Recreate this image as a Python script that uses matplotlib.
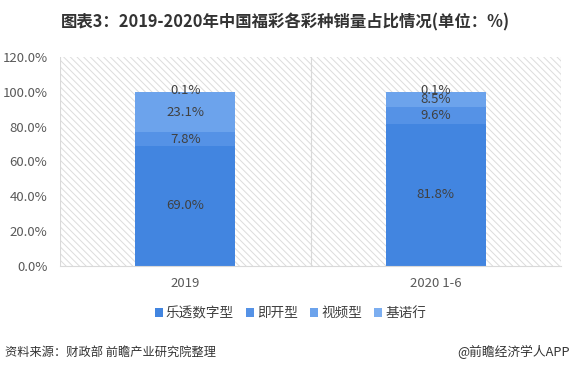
import matplotlib.pyplot as plt
from matplotlib.patches import Rectangle

plt.rcParams['font.family'] = ['Noto Sans CJK SC', 'DejaVu Sans']
plt.rcParams['hatch.color'] = '#dcdcdc'
plt.rcParams['hatch.linewidth'] = 0.7

categories = ['2019', '2020 1-6']
series = ['乐透数字型', '即开型', '视频型', '基诺行']
values = {
    '乐透数字型': [69.0, 81.8],
    '即开型': [7.8, 9.6],
    '视频型': [23.1, 8.5],
    '基诺行': [0.1, 0.1],
}
colors = ['#4285e0', '#5592e6', '#6ca3ec', '#7caef0']
yticks = [0, 20, 40, 60, 80, 100, 120]

fig = plt.figure(figsize=(5.74, 3.73), dpi=100)
ax = fig.add_axes([60 / 574, 1 - 266 / 373, 501 / 574, 209 / 373])

# hatched plot background
bg = Rectangle((0, 0), 1, 1, transform=ax.transAxes, facecolor='white',
               edgecolor='#dcdcdc', hatch='\\\\\\\\\\', linewidth=0, zorder=0)
ax.add_patch(bg)

x = list(range(len(categories)))
bottom = [0.0] * len(categories)
for s, c in zip(series, colors):
    v = values[s]
    ax.bar(x, v, width=0.4, bottom=bottom, color=c, zorder=2, label=s)
    for i in x:
        y = bottom[i] + v[i] / 2
        if s == '基诺行':
            y = bottom[i] + 0.8
        ax.text(i, y, f'{v[i]:.1f}%', ha='center', va='center',
                fontsize=9.5, color='#404040', zorder=3)
    bottom = [b + vv for b, vv in zip(bottom, v)]

ax.set_xlim(-0.5, 1.5)
ax.set_ylim(0, 120)
ax.set_yticks(yticks)
ax.set_yticklabels([f'{t:.1f}%' for t in yticks], fontsize=9.5, color='#595959')
ax.set_xticks(x)
ax.set_xticklabels(categories, fontsize=9.5, color='#595959')
ax.tick_params(axis='x', length=0, pad=8)
ax.tick_params(axis='y', length=0, pad=9)
for sp in ['top', 'right', 'left']:
    ax.spines[sp].set_visible(False)
ax.spines['bottom'].set_color('#d9d9d9')
for xv in [-0.5, 0.5, 1.5]:
    ax.axvline(xv, color='#d9d9d9', linewidth=0.8, zorder=1)

ax.legend(loc='center', bbox_to_anchor=(0.46, -0.225), ncol=4, frameon=False,
          fontsize=9.8, handlelength=0.6, handleheight=0.6, handletextpad=0.2,
          columnspacing=0.9, labelcolor='#404040')

fig.text(0.497, 1 - 22 / 373, '图表3：2019-2020年中国福彩各彩种销量占比情况(单位：%)',
         ha='center', va='center', fontsize=11.8, fontweight='bold', color='#333333')
fig.text(5 / 574, 1 - 352 / 373, '资料来源：财政部 前瞻产业研究院整理',
         ha='left', va='center', fontsize=8.8, color='#333333')
fig.text(570 / 574, 1 - 352 / 373, '@前瞻经济学人APP',
         ha='right', va='center', fontsize=9.2, color='#333333')

fig.savefig('out.png', dpi=100)
